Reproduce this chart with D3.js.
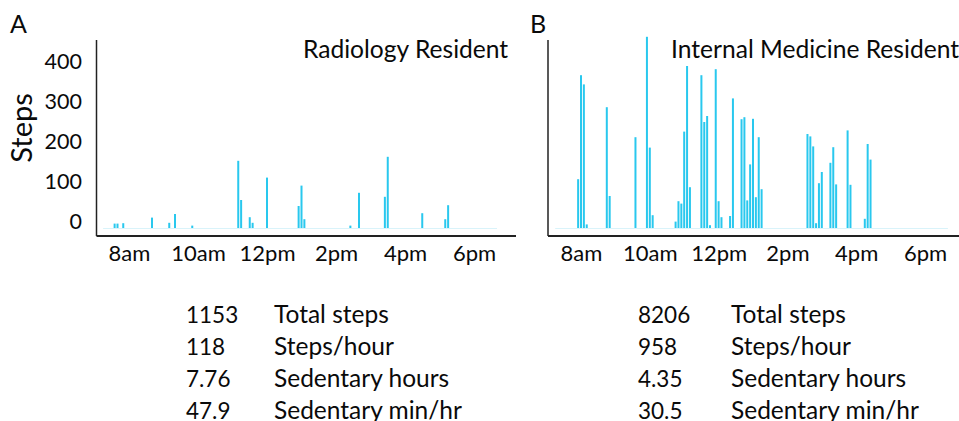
<!DOCTYPE html>
<html>
<head>
<meta charset="utf-8">
<script src="https://cdn.jsdelivr.net/npm/d3@7"></script>
<style>
  html, body { margin: 0; padding: 0; background: #fff; }
  svg { display: block; font-family: Lato, "Open Sans", sans-serif; }
</style>
</head>
<body>
<div id="chart"></div>
<script>
// Data: 5-minute bins, minutes after midnight
const radMinutes = [455, 460, 470, 520, 550, 560, 590, 670, 675, 690, 695, 720, 775, 780, 785, 865, 880, 925, 930, 990, 1030, 1035];
const radSteps   = [11, 11, 12, 26, 13, 35, 6, 168, 70, 27, 13, 126, 55, 106, 22, 6, 88, 78, 178, 37, 22, 57];

const imMinutes = [475, 480, 485, 490, 525, 530, 575, 595, 600, 605, 645, 650, 655, 660, 665, 670,
                   690, 695, 700, 705, 715, 720, 725, 740, 745, 760, 765, 770, 775, 780, 785, 790, 795,
                   875, 880, 885, 890, 895, 900, 915, 920, 925, 945, 950, 975, 980, 985];
const imSteps   = [122, 382, 359, 9, 302, 80, 227, 478, 201, 32, 16, 67, 61, 241, 405, 102,
                   382, 265, 280, 7, 397, 67, 27, 30, 324, 272, 277, 69, 159, 273, 77, 227, 97,
                   235, 229, 204, 12, 112, 140, 163, 202, 109, 244, 108, 23, 210, 171];

const recordSpan = [435, 1120]; // device worn
const hourTicks = [480, 600, 720, 840, 960, 1080];
const hourLabels = ["8am", "10am", "12pm", "2pm", "4pm", "6pm"];
const yTicks = [0, 100, 200, 300, 400];

const statLabels = ["Total steps", "Steps/hour", "Sedentary hours", "Sedentary min/hr"];
const radStats = ["1153", "118", "7.76", "47.9"];
const imStats  = ["8206", "958", "4.35", "30.5"];

const W = 959, H = 421;
const barColor = "#29c8ee";
const ink = "#0a0a0a";

const svg = d3.select("#chart").append("svg")
    .attr("width", W)
    .attr("height", H);

const y = d3.scaleLinear().domain([0, 400]).range([228, 68]);

function drawPanel(opts) {
    const g = svg.append("g");
    const x = d3.scaleLinear().domain([480, 1080]).range(opts.xRange);

    // faint zero line for the recorded period
    g.append("line")
        .attr("x1", x(recordSpan[0])).attr("x2", Math.min(x(recordSpan[1]), opts.axisRight))
        .attr("y1", y(0) + 0.5).attr("y2", y(0) + 0.5)
        .attr("stroke", "#d9f3fa")
        .attr("stroke-width", 1);

    // bars
    g.selectAll("rect.bar")
        .data(opts.minutes.map((m, i) => ({ m, v: opts.steps[i] })))
        .enter()
        .append("rect")
        .attr("class", "bar")
        .attr("x", d => x(d.m) - 1)
        .attr("y", d => y(d.v))
        .attr("width", 2)
        .attr("height", d => y(0) - y(d.v))
        .attr("fill", barColor);

    // axis lines
    g.append("line")
        .attr("x1", opts.axisLeft).attr("x2", opts.axisLeft)
        .attr("y1", 40).attr("y2", 236)
        .attr("stroke", "#222").attr("stroke-width", 1.5);
    g.append("line")
        .attr("x1", opts.axisLeft).attr("x2", opts.axisRight)
        .attr("y1", 236).attr("y2", 236)
        .attr("stroke", "#222").attr("stroke-width", 1.8);

    // x tick labels
    const xAxis = g.append("g")
        .attr("transform", "translate(0,236)")
        .call(d3.axisBottom(x).tickValues(hourTicks).tickSize(0)
            .tickFormat((d, i) => hourLabels[i]));
    xAxis.select(".domain").remove();
    xAxis.selectAll("text")
        .attr("y", 9)
        .attr("dy", "0.71em")
        .style("font-family", "Lato, sans-serif")
        .style("font-size", "22px")
        .attr("fill", ink);

    // y tick labels (panel A only)
    if (opts.yLabels) {
        const yAxis = g.append("g")
            .attr("transform", "translate(82,0)")
            .call(d3.axisLeft(y).tickValues(yTicks).tickSize(0));
        yAxis.select(".domain").remove();
        yAxis.selectAll("text")
            .attr("x", 0)
            .attr("dy", "0.03em")
            .style("font-family", "Lato, sans-serif")
            .style("font-size", "21.5px")
            .attr("fill", ink);
    }

    // panel letter
    g.append("text")
        .attr("x", opts.letterX).attr("y", 33)
        .style("font-size", "25px")
        .attr("fill", ink)
        .text(opts.letter);

    // title
    g.append("text")
        .attr("x", opts.titleX).attr("y", 58)
        .style("font-size", "24.6px")
        .attr("fill", ink)
        .text(opts.title);

    // summary stats
    opts.stats.forEach((s, i) => {
        g.append("text")
            .attr("x", opts.statX).attr("y", 323 + i * 32)
            .style("font-size", "22.5px")
            .attr("fill", ink)
            .text(s);
        g.append("text")
            .attr("x", opts.labelX).attr("y", 323 + i * 32)
            .style("font-size", "24.5px")
            .attr("fill", ink)
            .text(statLabels[i]);
    });
}

drawPanel({
    xRange: [129, 474], axisLeft: 96.5, axisRight: 516,
    minutes: radMinutes, steps: radSteps, yLabels: true,
    letter: "A", letterX: 10, title: "Radiology Resident", titleX: 303,
    stats: radStats, statX: 186, labelX: 274
});

drawPanel({
    xRange: [581, 925], axisLeft: 548, axisRight: 959,
    minutes: imMinutes, steps: imSteps, yLabels: false,
    letter: "B", letterX: 530, title: "Internal Medicine Resident", titleX: 671,
    stats: imStats, statX: 638, labelX: 731
});

// y axis title
svg.append("text")
    .attr("transform", "translate(32,128) rotate(-90)")
    .attr("text-anchor", "middle")
    .style("font-size", "29px")
    .attr("fill", ink)
    .text("Steps");
</script>
</body>
</html>
